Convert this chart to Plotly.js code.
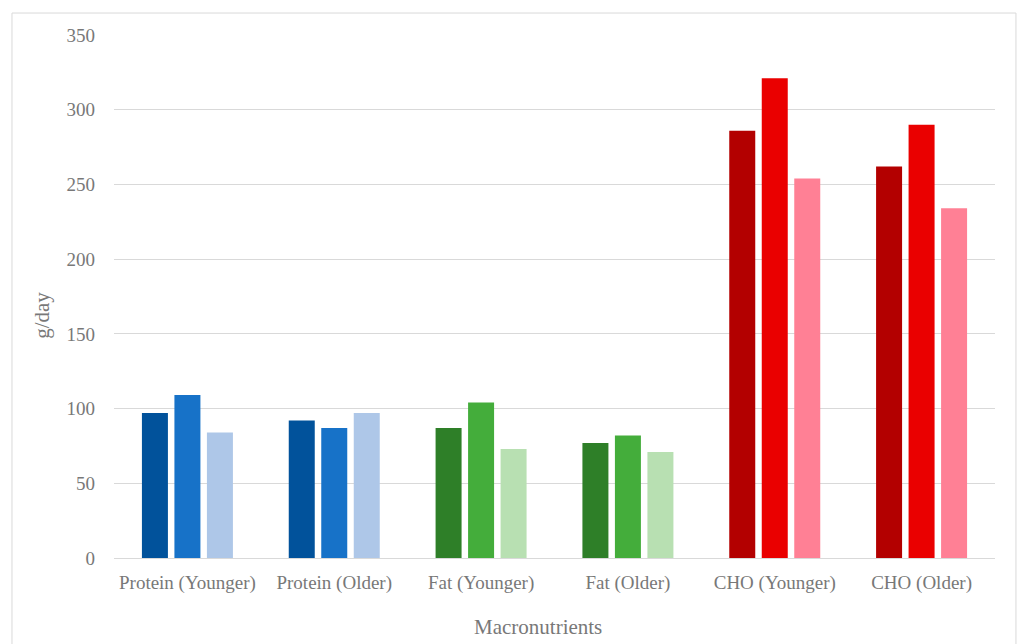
<!DOCTYPE html>
<html>
<head>
<meta charset="utf-8">
<script src="https://cdn.plot.ly/plotly-3.0.1.min.js"></script>
<style>
  html, body { margin: 0; padding: 0; background: #fff; }
  #chart { width: 1018px; height: 644px; }
</style>
</head>
<body>
<div id="chart"></div>
<script>
// Daily macronutrient intake (g/day), three bars per group
const categories = ['Protein (Younger)', 'Protein (Older)', 'Fat (Younger)', 'Fat (Older)', 'CHO (Younger)', 'CHO (Older)'];
const series1 = [97, 92, 87, 77, 286, 262];
const series2 = [109, 87, 104, 82, 321, 290];
const series3 = [84, 97, 73, 71, 254, 234];
const yTicks = [0, 50, 100, 150, 200, 250, 300, 350];

// Shades per macronutrient: blue for protein, green for fat, red for carbohydrate
const dark  = ['#01529B', '#01529B', '#2E7F28', '#2E7F28', '#B30000', '#B30000'];
const mid   = ['#1772C8', '#1772C8', '#44AD3B', '#44AD3B', '#EA0000', '#EA0000'];
const light = ['#AEC7E8', '#AEC7E8', '#B8E0B2', '#B8E0B2', '#FF8095', '#FF8095'];

const font = 'Liberation Serif, Times New Roman, serif';
const textColor = '#787878';

const traces = [
  { name: 'Series 1', values: series1, colors: dark },
  { name: 'Series 2', values: series2, colors: mid },
  { name: 'Series 3', values: series3, colors: light }
].map(s => ({
  type: 'bar',
  name: s.name,
  x: categories,
  y: s.values,
  marker: { color: s.colors, line: { width: 0 } },
  hoverinfo: 'x+y'
}));

const layout = {
  width: 1018,
  height: 644,
  margin: { l: 114, r: 23, t: 35, b: 86 },
  paper_bgcolor: '#fff',
  plot_bgcolor: '#fff',
  showlegend: false,
  barmode: 'group',
  bargap: 0.336,
  bargroupgap: 0.2,
  font: { family: font, size: 19, color: textColor },
  xaxis: {
    type: 'category',
    showgrid: false,
    showline: true,
    linecolor: '#d9d9d9',
    linewidth: 1,
    ticks: '',
    tickfont: { family: font, size: 19, color: textColor },
    ticklabelstandoff: 7
  },
  yaxis: {
    range: [0, 350],
    tickvals: yTicks,
    ticktext: yTicks.map(String),
    showgrid: true,
    gridcolor: '#d9d9d9',
    gridwidth: 1,
    zeroline: false,
    showline: false,
    ticks: '',
    tickfont: { family: font, size: 19, color: textColor },
    ticklabelstandoff: 18
  },
  annotations: [
    {
      text: 'g/day', xref: 'paper', yref: 'paper',
      x: -0.0817, y: 0.463, xanchor: 'center', yanchor: 'middle',
      textangle: -90, showarrow: false,
      font: { family: font, size: 21, color: textColor }
    },
    {
      text: 'Macronutrients', xref: 'paper', yref: 'paper',
      x: 0.481, y: -0.1327, xanchor: 'center', yanchor: 'middle',
      showarrow: false,
      font: { family: font, size: 21, color: textColor }
    }
  ],
  shapes: [
    {
      type: 'rect', xref: 'paper', yref: 'paper',
      x0: -0.1158, x1: 1.0238, y0: -0.2, y1: 1.042,
      line: { color: '#d9d9d9', width: 1 },
      fillcolor: 'rgba(0,0,0,0)', layer: 'below'
    }
  ]
};

Plotly.newPlot('chart', traces, layout, { displayModeBar: false, staticPlot: true });
</script>
</body>
</html>
